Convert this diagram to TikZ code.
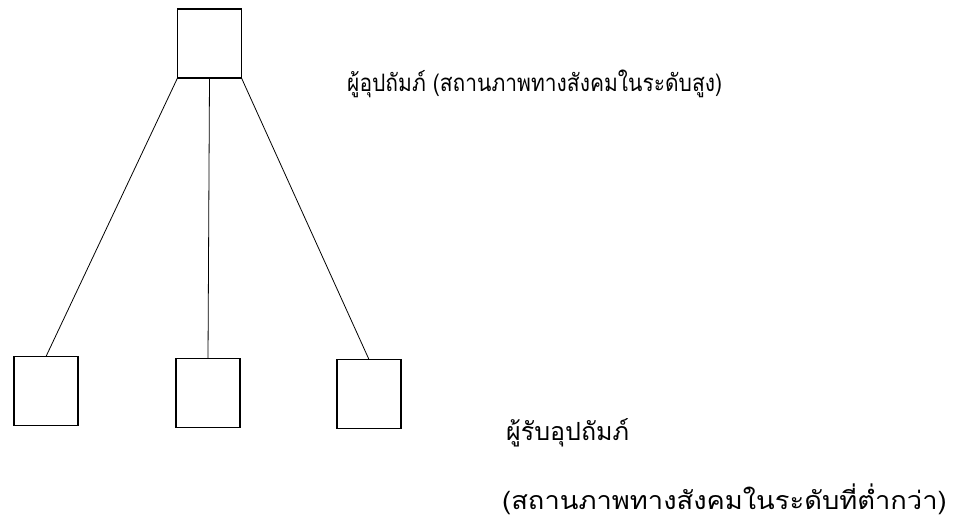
\documentclass[tikz,border=0pt]{standalone}
\usepackage{fontspec}
\newfontfamily\thaiA[Script=Thai,FakeStretch=0.875]{Loma}
\newfontfamily\thaiB[Script=Thai,FakeStretch=1.0]{Loma}
\newfontfamily\thaiC[Script=Thai,FakeStretch=1.093]{Loma}
\begin{document}
\begin{tikzpicture}[x=1pt,y=-1pt,
  box/.style={draw, line width=1.4pt, minimum width=64pt, minimum height=69pt, inner sep=0pt, outer sep=0pt},
  link/.style={line width=0.8pt},
  lab/.style={anchor=west, inner sep=0pt}]
\useasboundingbox (0,0) rectangle (962,520);
\node[box] (top) at (209.5,43.5) {};
\node[box] (b1) at (46,391) {};
\node[box] (b2) at (208,393) {};
\node[box] (b3) at (369,394) {};
\draw[link] (top.south west) -- (b1.north);
\draw[link] (top.south) -- (b2.north);
\draw[link] (top.south east) -- (b3.north);
\node[lab, font=\thaiA\fontsize{24}{28}\selectfont] (t1) at (347,84) {ผู้อุปถัมภ์ (สถานภาพทางสังคมในระดับสูง)};
\node[lab, font=\thaiB\fontsize{25}{29}\selectfont] (t2) at (506,433) {ผู้รับอุปถัมภ์};
\node[lab, font=\thaiC\fontsize{25}{29}\selectfont] (t3) at (502,499) {(สถานภาพทางสังคมในระดับที่ต่ำกว่า)};
\end{tikzpicture}
\end{document}
